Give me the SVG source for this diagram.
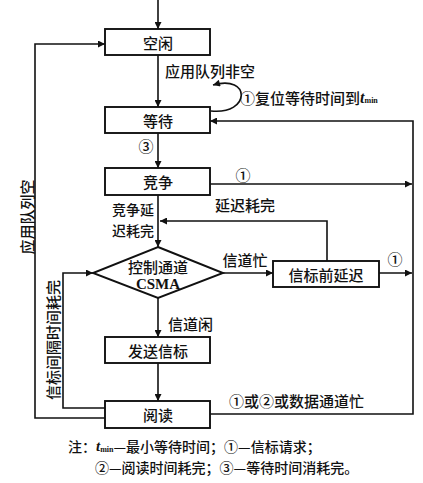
<svg xmlns="http://www.w3.org/2000/svg" width="423" height="483" viewBox="0 0 423 483">
<defs>
<marker id="ah" viewBox="0 0 10 10" refX="10" refY="5" markerWidth="9" markerHeight="7" markerUnits="userSpaceOnUse" orient="auto">
<path d="M0,0 L10,5 L0,10 Z" fill="#111"/>
</marker>
<style>
.box{fill:#fff;stroke:#111;stroke-width:1.9}
.ln{fill:none;stroke:#111;stroke-width:1.6}
.t{font-family:"Noto Sans CJK SC","Noto Sans",sans-serif;font-size:15px;font-weight:500;fill:#111;dominant-baseline:central}
.s{font-size:14px}
.c{text-anchor:middle}
.e{text-anchor:end}
.ser{font-family:"Liberation Serif",serif;font-weight:bold}
</style>
</defs>
<rect width="423" height="483" fill="#fff"/>

<g id="connectors">
<line class="ln" x1="158" y1="0" x2="158" y2="29" marker-end="url(#ah)"/>
<line class="ln" x1="158" y1="55" x2="158" y2="107" marker-end="url(#ah)"/>
<path class="ln" d="M211,111 C251,115 251,74 213,85" marker-end="url(#ah)"/>
<line class="ln" x1="158" y1="133" x2="158" y2="168" marker-end="url(#ah)"/>
<line class="ln" x1="210" y1="184" x2="412" y2="184" marker-end="url(#ah)"/>
<line class="ln" x1="158" y1="195" x2="158" y2="247" marker-end="url(#ah)"/>
<polyline class="ln" points="327,261 327,221 160,221" marker-end="url(#ah)"/>
<line class="ln" x1="223" y1="273" x2="273" y2="273" marker-end="url(#ah)"/>
<line class="ln" x1="379" y1="273" x2="412" y2="273" marker-end="url(#ah)"/>
<line class="ln" x1="158" y1="298" x2="158" y2="337" marker-end="url(#ah)"/>
<line class="ln" x1="158" y1="363" x2="158" y2="401" marker-end="url(#ah)"/>
<polyline class="ln" points="210,414 413,414 413,121 210,121" marker-end="url(#ah)"/>
<polyline class="ln" points="105,418 35,418 35,44 105,44" marker-end="url(#ah)"/>
<polyline class="ln" points="105,408 63,408 63,273 93,273" marker-end="url(#ah)"/>
</g>

<g id="idle"><rect class="box" x="105" y="29" width="105" height="26"/><text class="t c" x="158" y="42">空闲</text></g>
<g id="wait"><rect class="box" x="105" y="107" width="105" height="26"/><text class="t c" x="158" y="120">等待</text></g>
<g id="contend"><rect class="box" x="105" y="168" width="105" height="27"/><text class="t c" x="158" y="181">竞争</text></g>
<g id="csma"><polygon class="box" points="158,247 223,273 158,298 93,273"/><text class="t c" x="158" y="266">控制通道</text><text class="t c ser" x="158" y="284">CSMA</text></g>
<g id="predelay"><rect class="box" x="273" y="261" width="106" height="26"/><text class="t c" x="326" y="274">信标前延迟</text></g>
<g id="send"><rect class="box" x="105" y="337" width="105" height="26"/><text class="t c" x="158" y="350">发送信标</text></g>
<g id="read"><rect class="box" x="105" y="401" width="105" height="27"/><text class="t c" x="158" y="414">阅读</text></g>

<g id="labels">
<text class="t" x="165" y="70">应用队列非空</text>
<text class="t" x="240" y="97">①复位等待时间到<tspan class="ser" font-style="italic" font-size="16">t</tspan><tspan font-size="8" dy="3" class="ser">min</tspan></text>
<text class="t c" x="146" y="145">③</text>
<text class="t c" x="243" y="174">①</text>
<text class="t" x="215" y="204">延迟耗完</text>
<text class="t s e" x="154" y="209">竞争延</text>
<text class="t s e" x="154" y="230">迟耗完</text>
<text class="t c" x="245" y="259">信道忙</text>
<text class="t c" x="395" y="258">①</text>
<text class="t" x="168" y="323">信道闲</text>
<text class="t" x="229" y="400">①或②或数据通道忙</text>
<text class="t c" transform="translate(26,217) rotate(-90)">应用队列空</text>
<text class="t c" transform="translate(52,340) rotate(-90)">信标间隔时间耗完</text>
</g>

<g id="note">
<text class="t s" x="68" y="446">注：<tspan class="ser" font-style="italic" font-size="15">t</tspan><tspan font-size="8" dy="3" class="ser">min</tspan><tspan dy="-3">—最小等待时间；①—信标请求；</tspan></text>
<text class="t s" x="95" y="467">②—阅读时间耗完；③—等待时间消耗完。</text>
</g>
</svg>
